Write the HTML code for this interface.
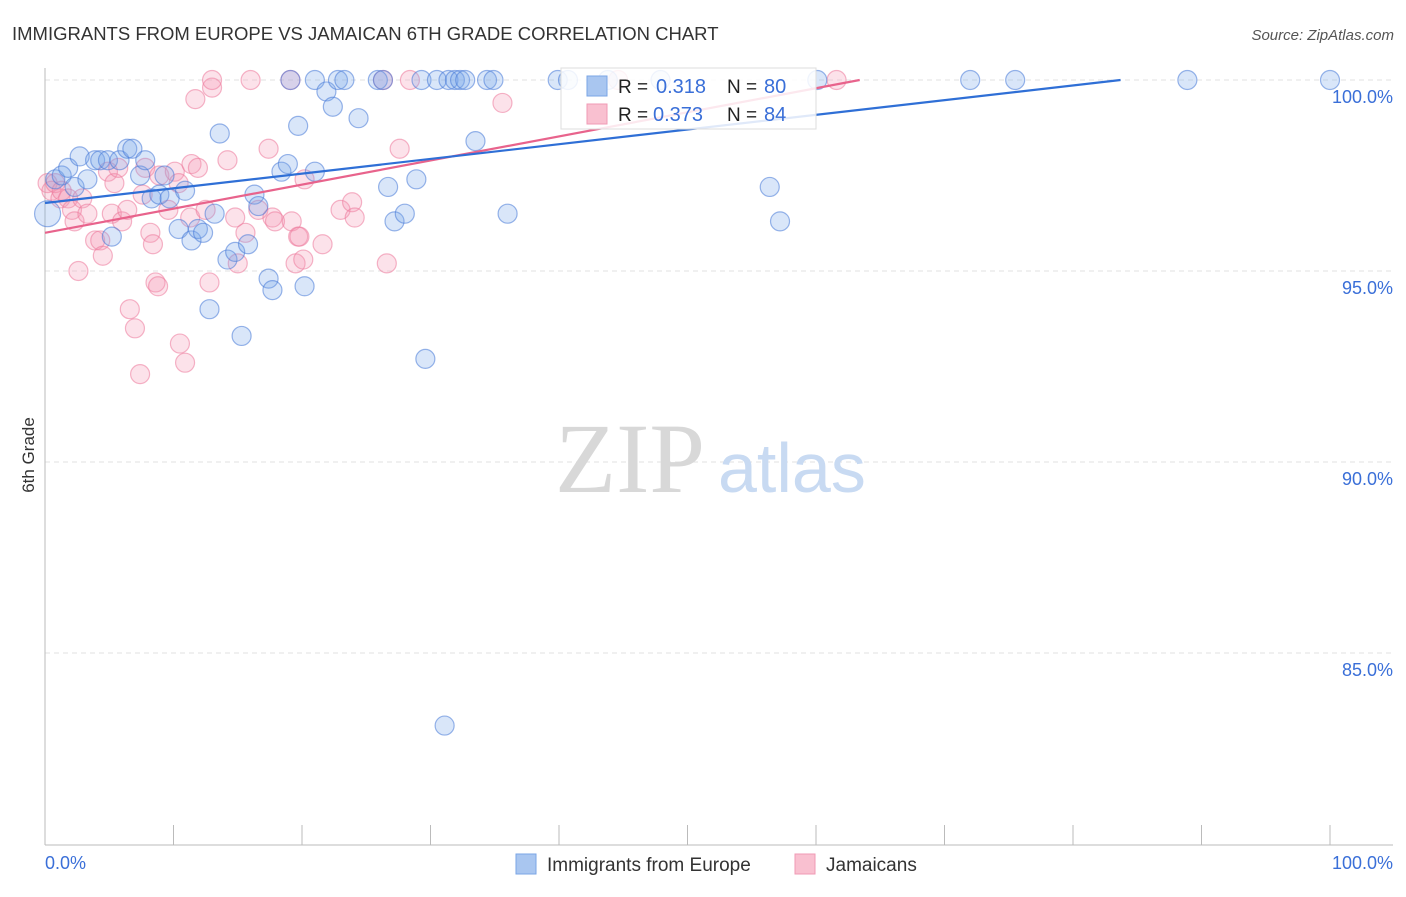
<!DOCTYPE html>
<html><head><meta charset="utf-8"><style>
body{margin:0;background:#fff;font-family:"Liberation Sans",sans-serif}
svg text{font-family:"Liberation Sans",sans-serif}
</style></head><body>
<svg id="chart" width="1406" height="892">
<text x="12" y="40" font-size="18.5" fill="#333">IMMIGRANTS FROM EUROPE VS JAMAICAN 6TH GRADE CORRELATION CHART</text>
<text x="1394" y="40" font-size="15" fill="#555" text-anchor="end" font-style="italic">Source: ZipAtlas.com</text>
<g id="grid"></g>
<text x="555" y="492" font-size="100" fill="#d8d8d8" style="font-family:'Liberation Serif',serif">ZIP</text>
<text x="718" y="492" font-size="70" fill="#c8daf2">atlas</text>
<g id="pts"></g>
<g id="lines"></g>
<text transform="translate(34,455) rotate(-90)" font-size="17" fill="#333" text-anchor="middle">6th Grade</text>
<g>
<rect x="561" y="68" width="255" height="61" fill="#fff" fill-opacity="0.85" stroke="#ddd"/>
<rect x="587" y="76" width="20" height="20" fill="#a9c6f0" stroke="#7aa5e6"/>
<rect x="587" y="104" width="20" height="20" fill="#f9c0d0" stroke="#f09ab4"/>
<text x="618" y="93" font-size="19" fill="#222">R =</text>
<text x="656" y="93" font-size="20" fill="#3a6fd8">0.318</text>
<text x="727" y="93" font-size="19" fill="#222">N =</text>
<text x="764" y="93" font-size="20" fill="#3a6fd8">80</text>
<text x="618" y="121" font-size="19" fill="#222">R =</text>
<text x="653" y="121" font-size="20" fill="#3a6fd8">0.373</text>
<text x="727" y="121" font-size="19" fill="#222">N =</text>
<text x="764" y="121" font-size="20" fill="#3a6fd8">84</text>
</g>
<g>
<rect x="516" y="854" width="20" height="20" fill="#a9c6f0" stroke="#7aa5e6"/>
<text x="547" y="871" font-size="19" fill="#333">Immigrants from Europe</text>
<rect x="795" y="854" width="20" height="20" fill="#f9c0d0" stroke="#f09ab4"/>
<text x="826" y="871" font-size="19" fill="#333">Jamaicans</text>
</g>
</svg>
<script>
const blueX=[0.2,0.8,1.3,1.8,2.3,2.7,3.3,3.9,4.3,4.9,5.2,5.8,6.4,6.8,7.4,7.8,8.3,8.9,9.3,9.7,10.4,10.9,11.4,11.9,12.3,12.8,13.2,13.6,14.2,14.8,15.3,15.8,16.3,16.6,17.4,17.7,18.4,18.9,19.1,19.7,20.2,21.0,21.0,21.9,22.4,22.8,23.3,24.4,25.9,26.3,26.7,27.2,28.0,28.9,29.3,29.6,30.5,31.1,31.4,31.9,32.3,32.7,33.5,34.4,34.9,36.0,39.9,40.7,43.8,47.9,56.4,57.2,60.1,72.0,75.5,88.9,100];
const blueY=[96.5,97.4,97.5,97.7,97.2,98.0,97.4,97.9,97.9,97.9,95.9,97.9,98.2,98.2,97.5,97.9,96.9,97.0,97.5,96.9,96.1,97.1,95.8,96.1,96.0,94.0,96.5,98.6,95.3,95.5,93.3,95.7,97.0,96.7,94.8,94.5,97.6,97.8,100,98.8,94.6,97.6,100,99.7,99.3,100,100,99.0,100,100,97.2,96.3,96.5,97.4,100,92.7,100,83.1,100,100,100,100,98.4,100,100,96.5,100,100,100,100,97.2,96.3,100,100,100,100,100];
const pinkX=[0.2,0.5,0.8,1.2,1.3,1.8,2.1,2.3,2.6,2.9,3.3,3.9,4.3,4.5,4.9,5.2,5.4,5.7,6.0,6.4,6.6,7.0,7.4,7.6,7.8,8.2,8.4,8.6,8.8,8.9,9.6,10.1,10.4,10.5,10.9,11.3,11.4,11.7,11.9,12.5,12.8,13.0,13.0,14.2,14.8,15.0,15.6,16.0,16.6,17.4,17.7,17.9,19.1,19.2,19.5,19.7,19.8,20.1,20.2,21.6,23.0,23.9,24.1,26.3,26.6,27.6,28.4,35.6,44.6,61.6];
const pinkY=[97.3,97.1,97.3,96.9,97.1,96.9,96.6,96.3,95.0,96.9,96.5,95.8,95.8,95.4,97.6,96.5,97.3,97.7,96.3,96.6,94.0,93.5,92.3,97.0,97.7,96.0,95.7,94.7,94.6,97.5,96.6,97.6,97.3,93.1,92.6,96.4,97.8,99.5,97.7,96.6,94.7,99.8,100,97.9,96.4,95.2,96.0,100,96.6,98.2,96.4,96.3,100,96.3,95.2,95.9,95.9,95.3,97.4,95.7,96.6,96.8,96.4,100,95.2,98.2,100,99.4,100,100];
const yTicks=[100,95,90,85];
const yTickLabels=["100.0%","95.0%","90.0%","85.0%"];
const xTicks=[0,10,20,30,40,50,60,70,80,90,100];
const blueLine=[0,96.78,83.7,100];
const pinkLine=[0,96.0,63.4,100];
const X=v=>45+v*12.85, Y=v=>80+(100-v)*38.2;
const NS="http://www.w3.org/2000/svg";
function mk(t,a,p){const e=document.createElementNS(NS,t);for(const k in a)e.setAttribute(k,a[k]);p.appendChild(e);return e;}
const grid=document.getElementById('grid');
yTicks.forEach((t,i)=>{
 const l=mk('line',{x1:45,x2:1393,y1:Y(t),y2:Y(t),stroke:'#e2e2e2','stroke-dasharray':'5,4'},grid);
 
 
 const tx=mk('text',{x:1393,y:Y(t)+23,'font-size':18,fill:'#3a6fd8','text-anchor':'end'},grid);
 tx.textContent=yTickLabels[i];
 
 
});
let ax=mk('line',{x1:45,x2:45,y1:68,y2:845,stroke:'#bbb'},grid);


ax=mk('line',{x1:45,x2:1393,y1:845,y2:845,stroke:'#bbb'},grid);


xTicks.forEach(t=>{const l=mk('line',{x1:X(t),x2:X(t),y1:825,y2:845,stroke:'#bbb'},grid);
 
 });
let t0=mk('text',{x:45,y:869,'font-size':18,fill:'#3a6fd8'},grid);t0.textContent="0.0%";


t0=mk('text',{x:1393,y:869,'font-size':18,fill:'#3a6fd8','text-anchor':'end'},grid);t0.textContent="100.0%";


const pts=document.getElementById('pts');
pinkX.forEach((x,i)=>{const c=mk('circle',{cx:X(x),cy:Y(pinkY[i]),r:9.5,fill:'rgba(244,150,178,0.28)',stroke:'rgba(236,120,155,0.55)','stroke-width':1.2},pts);
 
 });
blueX.forEach((x,i)=>{const c=mk('circle',{cx:X(x),cy:Y(blueY[i]),r:i==0?13:9.5,fill:'rgba(120,165,235,0.28)',stroke:'rgba(70,120,215,0.55)','stroke-width':1.2},pts);
 
 });
const lines=document.getElementById('lines');
let ln=mk('line',{x1:X(pinkLine[0]),y1:Y(pinkLine[1]),x2:X(pinkLine[2]),y2:Y(pinkLine[3]),stroke:'#e8638c','stroke-width':2.2},lines);


ln=mk('line',{x1:X(blueLine[0]),y1:Y(blueLine[1]),x2:X(blueLine[2]),y2:Y(blueLine[3]),stroke:'#2f6fd6','stroke-width':2.2},lines);


</script>
</body></html>
